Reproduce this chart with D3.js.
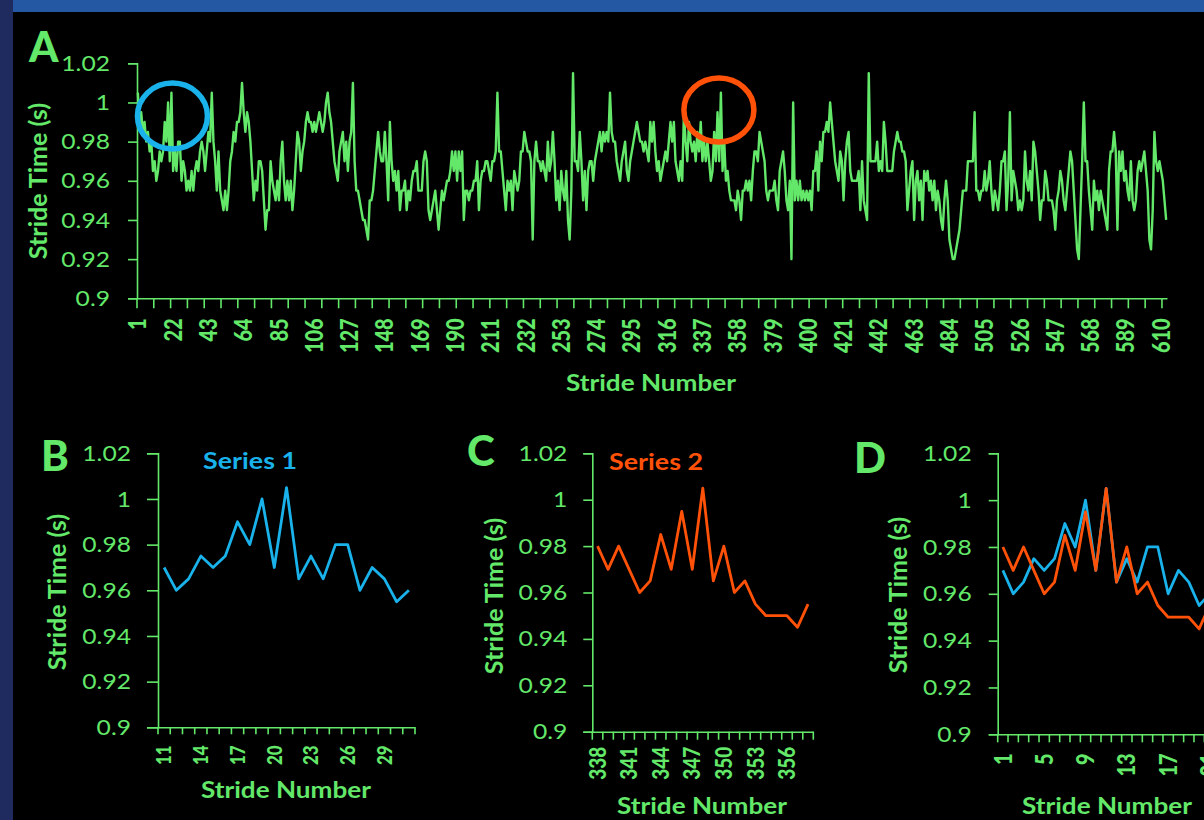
<!DOCTYPE html>
<html>
<head>
<meta charset="utf-8">
<script src="https://cdn.jsdelivr.net/npm/d3@7"></script>
<style>
  body { margin: 0; background: #000; }
  svg { display: block; }
</style>
</head>
<body>
<svg id="chart" width="1204" height="820"></svg>
<script>
// Stride times for strides 1..613, in milliseconds
const strideMs = [
  1005,990,995,985,990,980,985,975,980,965,
  970,960,965,975,970,975,990,980,1000,970,
  1005,965,975,965,980,980,960,970,965,955,
  960,955,965,955,965,970,965,975,980,975,
  965,975,985,980,1005,980,970,955,975,955,
  950,945,955,945,955,970,975,985,980,990,
  990,995,1010,995,985,995,990,980,965,950,
  960,955,970,970,965,950,935,945,945,970,
  960,955,950,960,950,970,980,960,950,960,
  950,960,945,955,970,985,980,965,975,980,
  990,995,990,990,985,990,985,990,995,990,
  985,990,1000,1005,995,990,980,970,965,960,
  975,980,985,970,980,965,980,985,1010,970,
  955,955,950,945,940,940,935,930,950,950,
  955,965,975,985,975,970,970,985,970,950,
  990,970,960,965,955,965,945,955,955,960,
  945,955,950,960,965,965,970,955,955,955,
  970,975,970,945,940,945,950,955,945,935,
  945,955,950,955,960,960,965,975,965,975,
  960,975,965,975,940,955,955,950,955,955,
  960,960,970,945,960,965,965,970,970,965,
  960,970,970,975,1005,975,975,965,955,945,
  960,955,960,945,965,960,955,960,975,975,
  985,980,975,975,970,930,970,980,970,970,
  965,970,965,960,980,965,970,985,970,950,
  960,945,965,955,950,965,940,930,955,1015,
  970,970,965,985,970,950,965,945,965,970,
  970,960,970,975,980,985,975,985,980,985,
  980,1005,985,980,980,970,965,960,970,975,
  980,965,960,970,975,980,985,990,985,980,
  980,975,980,975,970,990,980,990,975,965,
  970,960,965,970,975,970,980,990,980,990,
  970,965,960,970,960,995,980,970,990,980,
  975,980,970,985,975,990,970,980,970,980,
  970,960,965,985,970,995,970,1005,965,980,
  960,965,955,950,950,950,945,955,950,940,
  955,955,960,955,960,950,965,975,975,970,
  985,980,975,970,955,950,955,955,955,960,
  950,945,965,970,975,965,950,945,960,920,
  1000,950,960,950,960,950,955,950,955,950,
  955,945,965,965,975,955,980,970,985,985,
  990,985,1000,990,980,970,965,960,975,970,
  950,970,980,985,965,960,960,960,960,965,
  945,970,950,945,940,1015,970,970,970,970,
  980,965,970,965,990,980,965,965,965,965,
  975,980,985,980,980,975,975,970,945,955,
  965,970,940,960,965,950,960,940,965,960,
  965,955,960,950,960,945,955,950,940,935,
  950,960,950,930,925,920,920,925,930,935,
  945,955,955,955,970,970,970,970,995,955,
  955,950,955,955,965,955,960,970,955,945,
  955,950,945,955,970,970,975,945,960,995,
  950,965,960,955,945,950,945,950,975,960,
  955,965,950,980,975,965,955,940,950,950,
  965,960,950,950,950,945,935,950,955,965,
  960,950,945,955,965,975,970,955,940,925,
  920,945,970,1000,970,970,955,945,935,960,
  950,955,945,955,950,945,940,935,965,975,
  975,985,975,935,975,965,975,960,965,955,
  950,970,950,945,950,965,970,965,970,975,
  965,955,930,925,945,985,970,965,970,965,
  960,950,940
];
const strideTime = strideMs.map(v => v / 1000);

// Highlighted windows (first and last stride number)
const series1Range = [11, 31];
const series2Range = [338, 358];

const yTickValues = [0.9, 0.92, 0.94, 0.96, 0.98, 1, 1.02];

const green = "#63e86a";
const blue = "#19b2ea";
const orange = "#ff5208";

const series1 = strideTime.slice(series1Range[0] - 1, series1Range[1]);
const series2 = strideTime.slice(series2Range[0] - 1, series2Range[1]);

const svg = d3.select("#chart");

// slide frame
svg.append("rect").attr("x", 0).attr("y", 0).attr("width", 1204).attr("height", 12).attr("fill", "#2458a2");
svg.append("rect").attr("x", 0).attr("y", 0).attr("width", 13).attr("height", 820).attr("fill", "#1f2a5e");

function stretch(sel, k) {
  sel.each(function () {
    const w = this.getComputedTextLength();
    d3.select(this).attr("textLength", w * k).attr("lengthAdjust", "spacingAndGlyphs");
  });
}

function drawPanel(p) {
  const g = svg.append("g");

  const x = d3.scaleBand().domain(p.strides).range([p.x0, p.x1]);
  const y = d3.scaleLinear().domain([0.9, 1.02]).range([p.y1, p.y0]);

  // y axis
  const yAxis = g.append("g")
    .attr("transform", `translate(${p.x0},0)`)
    .call(d3.axisLeft(y).tickValues(yTickValues).tickSizeOuter(0)
      .tickSize(p.yTick).tickPadding(p.yPad)
      .tickFormat(d => String(+d.toFixed(2))));
  yAxis.select(".domain").attr("stroke", green).attr("stroke-width", 1.6);
  yAxis.selectAll(".tick line").attr("stroke", green).attr("stroke-width", 1.6);
  yAxis.selectAll("text")
    .attr("fill", green)
    .style("font", "22px Lato");
  stretch(yAxis.selectAll("text"), 1.12);

  // x axis, labels only
  const labelStrides = p.strides.filter((d, i) => i % p.labelEvery == 0);
  const xAxis = g.append("g")
    .attr("transform", `translate(0,${p.y1})`)
    .call(d3.axisBottom(x).tickValues(labelStrides).tickSize(0).tickSizeOuter(0));
  xAxis.select(".domain").attr("stroke", green).attr("stroke-width", 1.6);
  // rotated labels; the scale widens the glyphs like the source slide
  xAxis.selectAll("text")
    .attr("fill", green)
    .style("font", `900 ${p.labelFont}px Lato`)
    .attr("text-anchor", "end")
    .attr("x", -p.labelGap)
    .attr("y", 0)
    .attr("dy", "0.36em")
    .attr("transform", "rotate(-90) scale(1,1.2)");

  // tick marks on category boundaries
  const tickStrides = p.strides.filter((d, i) => i % p.tickEvery == 0);
  const tickX = tickStrides.map(d => x(d));
  if (p.strides.length % p.tickEvery == 0) tickX.push(p.x1);
  g.append("g").selectAll("line")
    .data(tickX)
    .join("line")
    .attr("x1", d => d).attr("x2", d => d)
    .attr("y1", p.y1).attr("y2", p.y1 + p.xTick)
    .attr("stroke", green)
    .attr("stroke-width", 1.6);

  // lines
  const line = d3.line()
    .x((d, i) => x(p.strides[i]) + x.bandwidth() / 2)
    .y(d => y(d));
  p.series.forEach(s => {
    g.append("path")
      .datum(s.values)
      .attr("d", line)
      .attr("fill", "none")
      .attr("stroke", s.color)
      .attr("stroke-width", s.width)
      .attr("stroke-linejoin", "round");
  });

  // axis titles
  g.append("text")
    .attr("x", p.yTitle[0]).attr("y", p.yTitle[1])
    .attr("transform", `rotate(-90,${p.yTitle[0]},${p.yTitle[1]})`)
    .attr("text-anchor", "middle")
    .attr("dy", "0.36em")
    .attr("fill", green)
    .style("font", "bold 25px Lato")
    .text("Stride Time (s)");

  g.append("text")
    .attr("x", p.xTitle[0]).attr("y", p.xTitle[1])
    .attr("text-anchor", "middle")
    .attr("fill", green)
    .attr("textLength", 170)
    .attr("lengthAdjust", "spacingAndGlyphs")
    .style("font", "bold 22px Lato")
    .text("Stride Number");

  // panel letter
  g.append("text")
    .attr("x", p.letter[0]).attr("y", p.letter[1])
    .attr("fill", green)
    .style("font", "900 42px Lato")
    .text(p.letter[2]);

  if (p.title) {
    g.append("text")
      .attr("x", p.title.x).attr("y", p.title.y)
      .attr("text-anchor", "middle")
      .attr("fill", p.title.color)
      .attr("textLength", 94)
      .attr("lengthAdjust", "spacingAndGlyphs")
      .style("font", "bold 23px Lato")
      .text(p.title.text);
  }
  return { x, y, g };
}

// A: whole walk
const panelA = drawPanel({
  strides: d3.range(1, strideTime.length + 1),
  x0: 137, x1: 1167, y0: 63.3, y1: 298.3,
  yTick: 9, yPad: 18, xTick: 10,
  tickEvery: 10, labelEvery: 21, labelFont: 20, labelGap: 20,
  yTitle: [38, 181], xTitle: [651, 391], letter: [29, 62, "A"],
  series: [{ values: strideTime, color: green, width: 2.4 }]
});

// circles marking the two windows
const cx1 = panelA.x(21) + panelA.x.bandwidth() / 2;
const cx2 = panelA.x(348) + panelA.x.bandwidth() / 2;
panelA.g.append("ellipse")
  .attr("cx", cx1 + 1).attr("cy", 116).attr("rx", 35).attr("ry", 33)
  .attr("fill", "none").attr("stroke", blue).attr("stroke-width", 5.5);
panelA.g.append("ellipse")
  .attr("cx", cx2 - 2).attr("cy", 110).attr("rx", 35).attr("ry", 32)
  .attr("fill", "none").attr("stroke", orange).attr("stroke-width", 5.5);

// B: series 1
drawPanel({
  strides: d3.range(series1Range[0], series1Range[1] + 1),
  x0: 158, x1: 415, y0: 453.3, y1: 727.3,
  yTick: 11, yPad: 16, xTick: 7,
  tickEvery: 1, labelEvery: 3, labelFont: 17, labelGap: 18,
  yTitle: [57, 592], xTitle: [286, 798], letter: [41, 471, "B"],
  title: { x: 250, y: 469, text: "Series 1", color: blue },
  series: [{ values: series1, color: blue, width: 2.8 }]
});

// C: series 2
drawPanel({
  strides: d3.range(series2Range[0], series2Range[1] + 1),
  x0: 592.3, x1: 813.3, y0: 453.3, y1: 731.7,
  yTick: 9, yPad: 16, xTick: 8,
  tickEvery: 1, labelEvery: 3, labelFont: 19, labelGap: 15,
  yTitle: [494, 596], xTitle: [702, 814], letter: [467, 466, "C"],
  title: { x: 656, y: 470, text: "Series 2", color: orange },
  series: [{ values: series2, color: orange, width: 2.8 }]
});

// D: both windows overlaid
drawPanel({
  strides: d3.range(1, series1.length + 1),
  x0: 997.7, x1: 997.7 + 21 * 10.33, y0: 453.3, y1: 734.3,
  yTick: 9, yPad: 17, xTick: 8,
  tickEvery: 1, labelEvery: 4, labelFont: 20, labelGap: 19,
  yTitle: [898, 595], xTitle: [1107, 814], letter: [854, 473, "D"],
  series: [
    { values: series1, color: blue, width: 2.8 },
    { values: series2, color: orange, width: 2.8 }
  ]
});
</script>
</body>
</html>
